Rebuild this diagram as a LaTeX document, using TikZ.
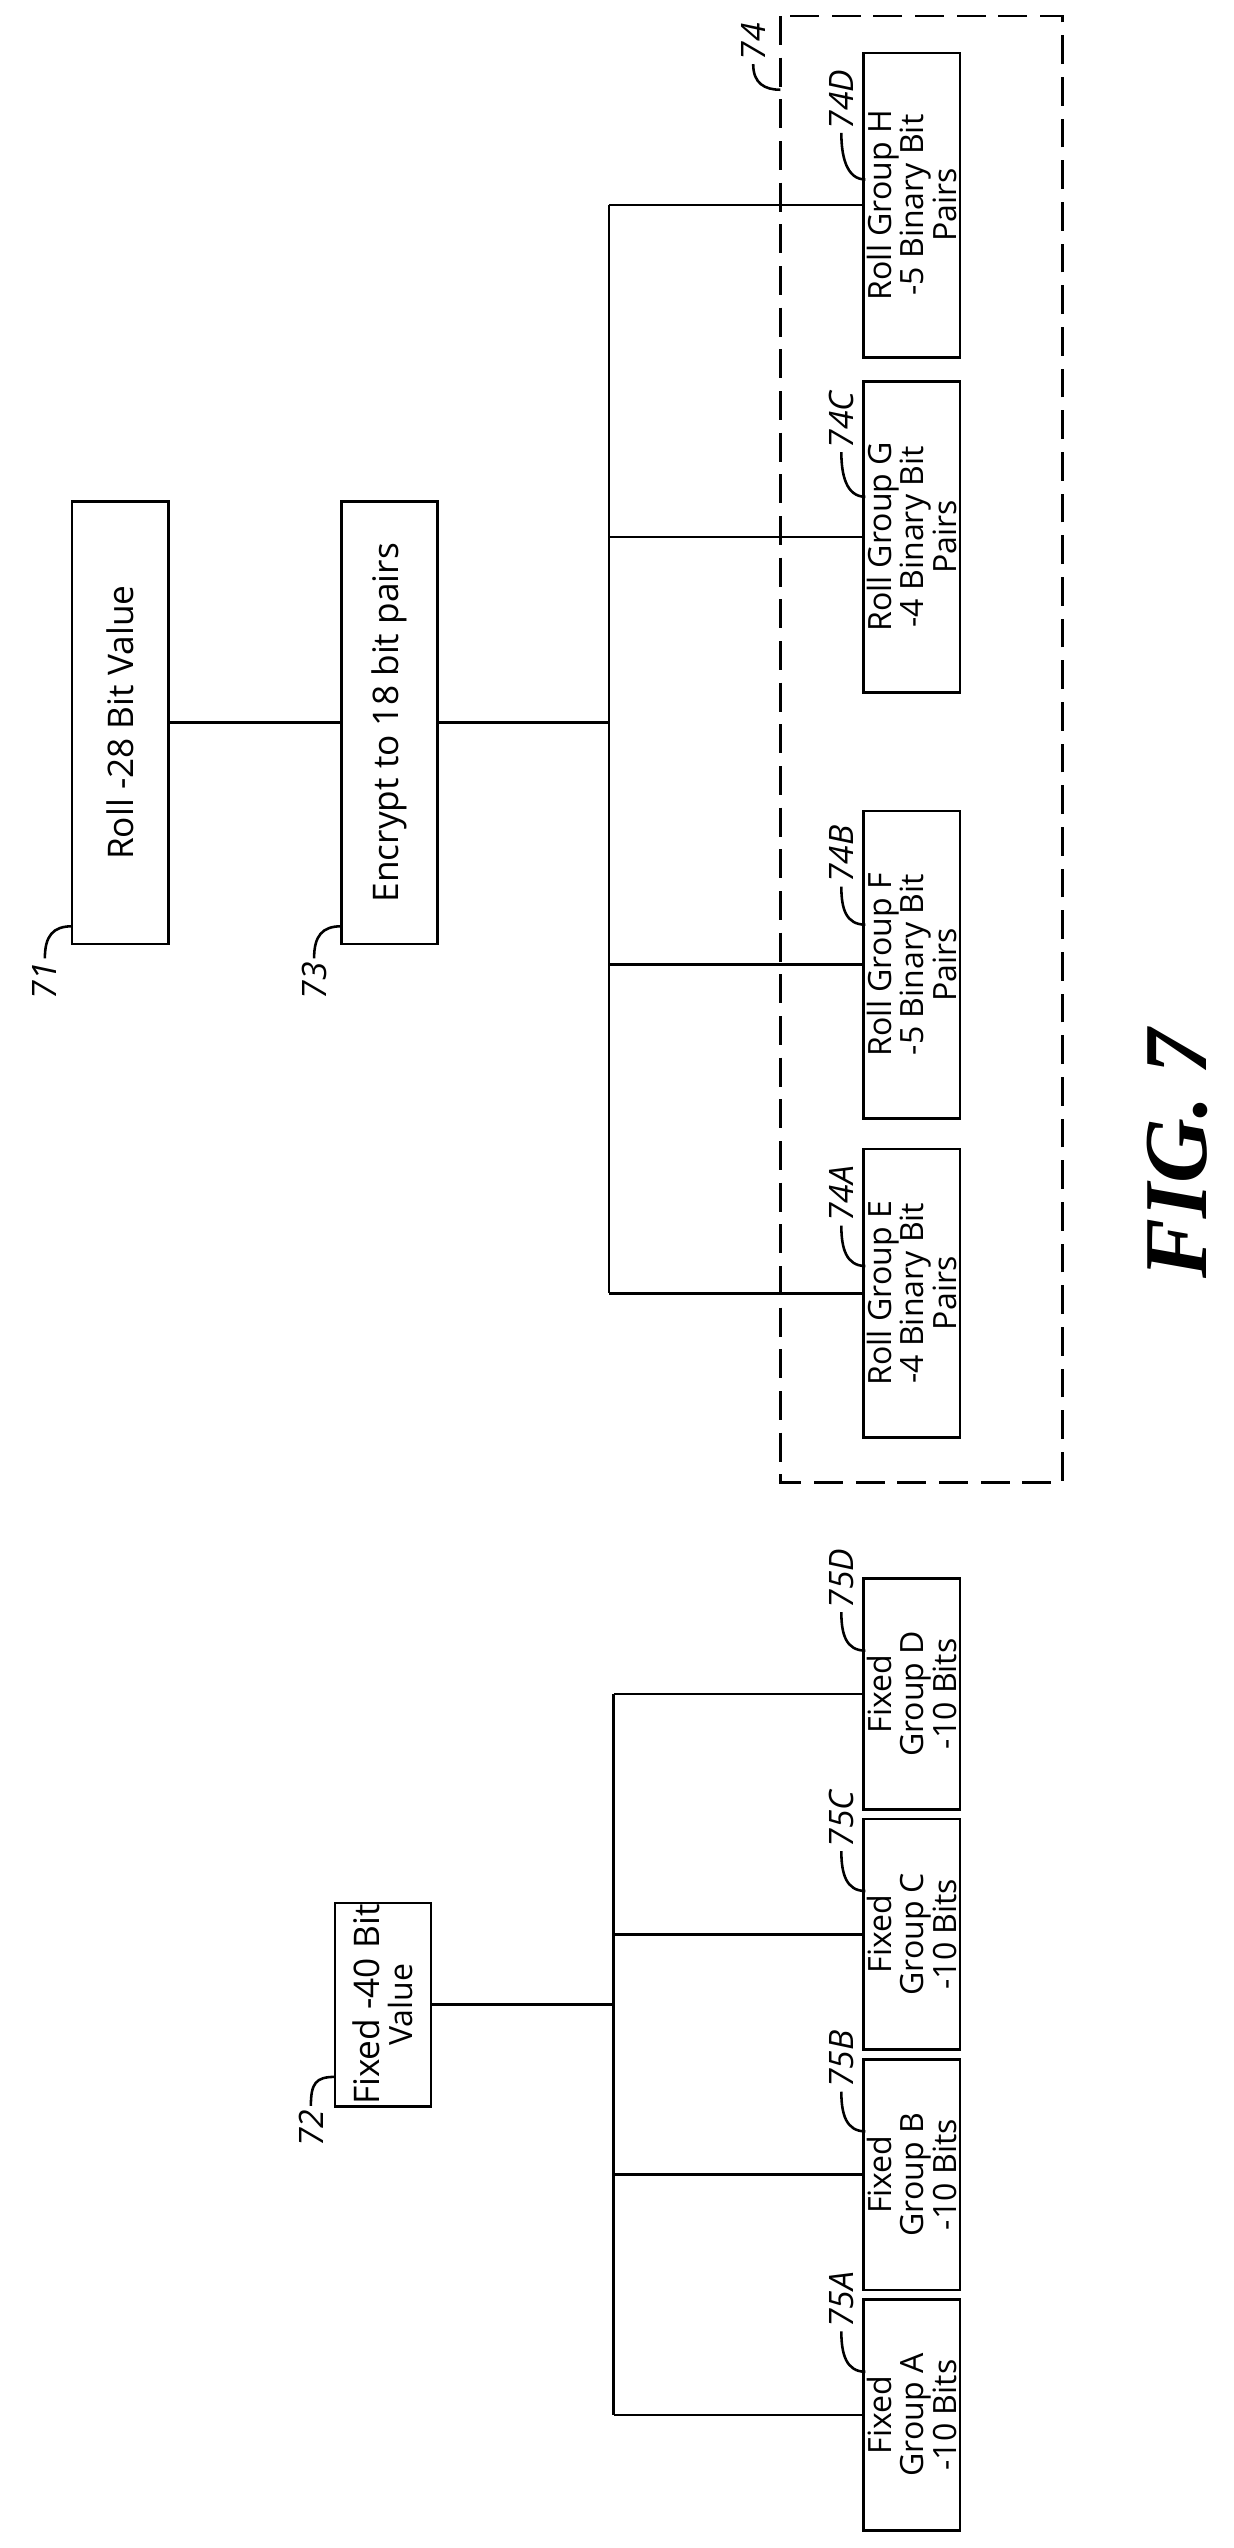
\documentclass[tikz,border=0pt]{standalone}
\usepackage{fontspec}
\setmainfont{Open Sans}
\newfontfamily\figfont{Liberation Serif}
\begin{document}
\begin{tikzpicture}[x=0.5pt,y=-0.5pt,
    blk/.style={draw,thick,rotate=90,align=center,inner sep=0.5pt,
      font=\fontsize{10}{10.2}\selectfont,minimum height=30pt},
    tag/.style={rotate=90,font=\itshape\fontsize{10.5}{11}\selectfont,inner sep=1pt},
    lead/.style={thick}]
        \useasboundingbox (0,0) rectangle (770,1590);
        % upper tree
        \node[blk,minimum width=138pt] (r71) at (75,451) {\fontsize{11}{12}\selectfont Roll -28 Bit Value};
        \node[blk,minimum width=138pt] (r73) at (243,451) {\fontsize{11}{12}\selectfont Encrypt to 18 bit pairs};
        \node[blk,minimum width=90pt] (r74a) at (569,807) {Roll Group E\\-4 Binary Bit\\Pairs};
        \node[blk,minimum width=96pt] (r74b) at (569,602) {Roll Group F\\-5 Binary Bit\\Pairs};
        \node[blk,minimum width=97pt] (r74c) at (569,335) {Roll Group G\\-4 Binary Bit\\Pairs};
        \node[blk,minimum width=95pt] (r74d) at (569,128) {Roll Group H\\-5 Binary Bit\\Pairs};
        \draw[thick,dashed,dash pattern=on 9pt off 4pt] (487,10) rectangle (663,925);
        \coordinate (t74) at (380,451);
        \draw[thick] (r71.south) -- (r73.north);
        \draw[thick] (r73.south) -- (t74);
        \draw[thick] (t74|-r74d) -- (t74|-r74a);
        \foreach \b in {r74a,r74b,r74c,r74d}
          \draw[thick] (t74|-\b) -- (\b.north);
        % lower tree
        \node[blk,minimum width=60pt] (f72) at (239,1251) {\fontsize{11}{12}\selectfont Fixed -40 Bit\\Value};
        \foreach \b/\g/\y in {f75a/A/1507,f75b/B/1357,f75c/C/1207,f75d/D/1057}
          \node[blk,minimum width=72pt] (\b) at (569,\y) {Fixed\\Group \g\\-10 Bits};
        \coordinate (t75) at (383,1251);
        \draw[thick] (f72.south) -- (t75);
        \draw[thick] (t75|-f75d) -- (t75|-f75a);
        \foreach \b in {f75a,f75b,f75c,f75d}
          \draw[thick] (t75|-\b) -- (\b.north);
        % reference numerals, below a box corner
        \foreach \n/\lx/\ly/\ex/\ey in {71/28/612/45/578, 73/196/612/213/578, 72/194/1328/209/1296}
          {\node[tag] (n\n) at (\lx,\ly) {\n};
           \draw[lead] (n\n.east) .. controls +(0,-14) and +(-12,0) .. (\ex,\ey);}
        % reference numerals, above a box
        \foreach \n/\lx/\ly/\ex/\ey in {74A/525/745/540/790, 74B/525/533/540/577,
            74C/525/262/540/310, 74D/525/62/540/112,
            75A/525/1435/540/1480, 75B/525/1285/540/1330, 75C/525/1135/540/1180, 75D/525/985/540/1030}
          {\node[tag] (n\n) at (\lx,\ly) {\n};
           \draw[lead] (n\n.west) .. controls +(0,14) and +(-12,0) .. (\ex,\ey);}
        \node[tag] (n74) at (470,26) {74};
        \draw[lead] (n74.west) .. controls +(0,12) and +(-10,0) .. (487,56);
        \node[rotate=90,font=\figfont\bfseries\itshape\fontsize{28}{30}\selectfont] (fig) at (735,720) {FIG. 7};
      \end{tikzpicture}
\end{document}
